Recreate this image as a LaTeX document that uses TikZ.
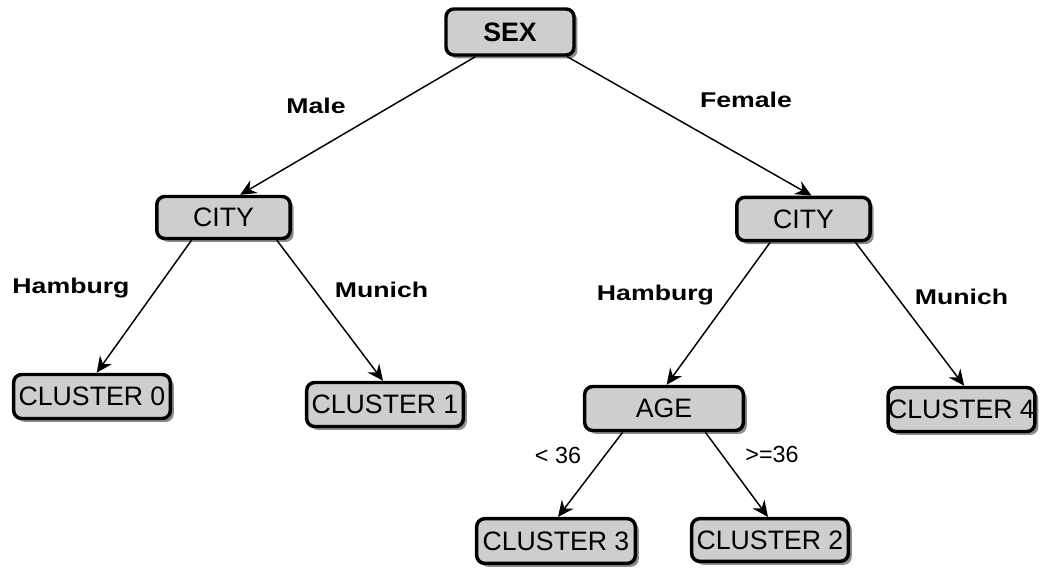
\documentclass[tikz,border=0pt]{standalone}
\usepackage{fontspec}
\setmainfont{Liberation Sans}
\newfontfamily\edgefont[FakeStretch=1.25]{Liberation Sans}
\usetikzlibrary{arrows.meta,shadows}
\definecolor{boxgray}{RGB}{206,206,206}
\tikzset{
  treebox/.style={draw=black, line width=2.6pt, rounded corners=6pt, fill=boxgray,
    inner sep=0pt, font=\fontsize{20pt}{22pt}\selectfont,
    drop shadow={shadow xshift=2.6pt, shadow yshift=-2.6pt, fill=black!60, opacity=0.75}},
  branch/.style={draw=black, line width=1.1pt,
    -{Stealth[length=12pt, width=11pt, inset=4pt]}},
  edgelabel/.style={anchor=base, inner sep=0pt, font=\edgefont\bfseries\fontsize{16pt}{18pt}\selectfont},
  agelabel/.style={anchor=base, inner sep=0pt, font=\fontsize{17.5pt}{19pt}\selectfont}
}
\begin{document}
\begin{tikzpicture}[x=0.75pt, y=-0.75pt]
  \useasboundingbox (0,0) rectangle (1043,569);
  % decision nodes and leaves
  \node[treebox, minimum width=96pt, minimum height=34.5pt] (sex) at (510,32) {\bfseries SEX};
  \node[treebox, minimum width=100pt, minimum height=31.5pt] (cityL) at (223.5,217.5) {CITY};
  \node[treebox, minimum width=100pt, minimum height=32.5pt] (cityR) at (803.5,219) {CITY};
  \node[treebox, minimum width=117.5pt, minimum height=33pt] (c0) at (92,396.5) {CLUSTER 0};
  \node[treebox, minimum width=117.5pt, minimum height=33pt] (c1) at (385,404.5) {CLUSTER 1};
  \node[treebox, minimum width=119pt, minimum height=33pt] (age) at (664,408.5) {AGE};
  \node[treebox, minimum width=108pt, minimum height=33pt] (c4) at (961.5,409.5) {CLUSTER 4};
  \node[treebox, minimum width=119pt, minimum height=33.5pt] (c3) at (556,541) {CLUSTER 3};
  \node[treebox, minimum width=117.5pt, minimum height=32pt] (c2) at (770,540) {CLUSTER 2};
  % branches
  \draw[branch] ([xshift=-26pt]sex.south) -- ([xshift=12.5pt]cityL.north);
  \draw[branch] ([xshift=43pt]sex.south) -- ([xshift=6pt]cityR.north);
  \draw[branch] ([xshift=-24pt]cityL.south) -- ([xshift=3.5pt]c0.north);
  \draw[branch] ([xshift=40pt]cityL.south) -- ([xshift=-1.5pt]c1.north);
  \draw[branch] ([xshift=-25pt]cityR.south) -- ([xshift=2pt]age.north);
  \draw[branch] ([xshift=39pt]cityR.south) -- ([xshift=2pt]c4.north);
  \draw[branch] ([xshift=-31pt]age.south) -- ([xshift=1.5pt]c3.north);
  \draw[branch] ([xshift=31pt]age.south) -- ([xshift=-1.5pt]c2.north);
  % branch labels
  \node[edgelabel] (lmale) at (316,113) {Male};
  \node[edgelabel] (lfemale) at (746,107) {Female};
  \node[edgelabel] (lhamL) at (71,293) {Hamburg};
  \node[edgelabel] (lmunL) at (381.5,297.5) {Munich};
  \node[edgelabel] (lhamR) at (655.5,300) {Hamburg};
  \node[edgelabel] (lmunR) at (961.5,304) {Munich};
  \node[agelabel] (llt) at (558,463) {< 36};
  \node[agelabel] (lge) at (772,462) {>=36};
\end{tikzpicture}
\end{document}
